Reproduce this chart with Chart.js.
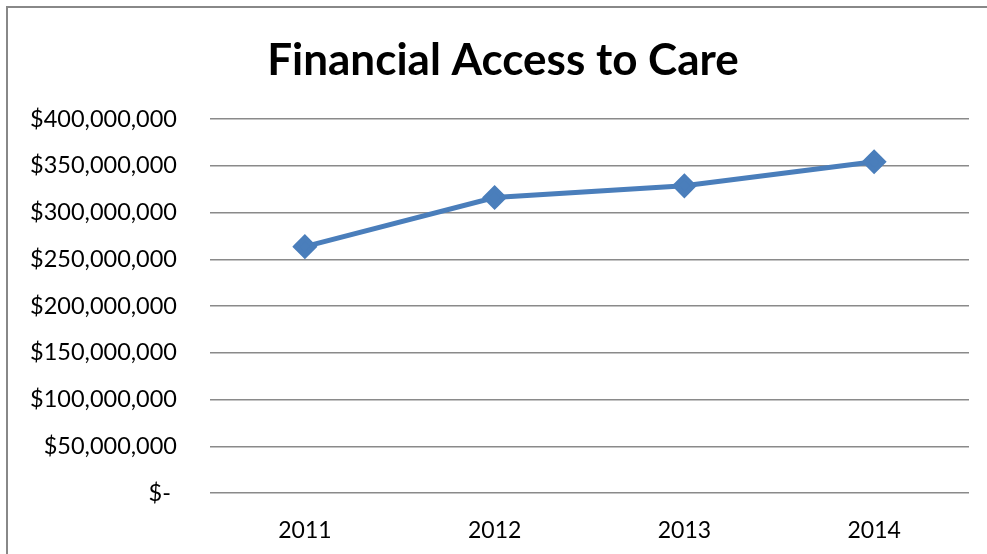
<!DOCTYPE html>
<html>
<head>
<meta charset="utf-8">
<script src="https://cdn.jsdelivr.net/npm/chart.js@4"></script>
<style>
  html, body { margin: 0; padding: 0; background: #fff; overflow: hidden; }
  #wrap { position: relative; width: 987px; height: 554px; }
  #frame { position: absolute; left: 6px; top: 6px; width: 1100px; height: 700px;
           border-left: 2px solid #888; border-top: 2px solid #888; }
  canvas { position: absolute; left: 0; top: 0; }
</style>
</head>
<body>
<div id="wrap">
  <div id="frame"></div>
  <canvas id="chart" width="987" height="554"></canvas>
</div>
<script>
const years = ['2011', '2012', '2013', '2014'];
const spending = [263500000, 316000000, 328500000, 354300000];
const yTicks = [0, 50000000, 100000000, 150000000, 200000000, 250000000, 300000000, 350000000, 400000000];

const FONT = 'Lato, "Open Sans", sans-serif';

function money(v) {
  if (v === 0) return '$- ';
  return '$' + v.toLocaleString('en-US');
}

// nudge the title box so the heading sits a bit right of the canvas centre
const titleShift = {
  id: 'titleShift',
  afterLayout(chart) {
    if (chart.titleBlock) chart.titleBlock.left = 37;
  }
};

new Chart(document.getElementById('chart'), {
  type: 'line',
  data: {
    labels: years,
    datasets: [{
      data: spending,
      borderColor: '#4a7ebb',
      backgroundColor: '#4a7ebb',
      borderWidth: 5,
      pointStyle: 'rectRot',
      pointRadius: 9,
      pointHoverRadius: 9,
      tension: 0
    }]
  },
  options: {
    responsive: false,
    animation: false,
    layout: { padding: { left: 0, right: 18, top: 0, bottom: 0 } },
    plugins: {
      legend: { display: false },
      tooltip: { enabled: false },
      title: {
        display: true,
        text: 'Financial Access to Care',
        color: '#000',
        font: { family: FONT, size: 44, weight: 'bold', lineHeight: 1.2 },
        padding: { top: 34, bottom: 32.2 }
      }
    },
    scales: {
      x: {
        offset: true,
        grid: { display: false },
        border: { display: false },
        ticks: { color: '#000', font: { family: FONT, size: 23 }, padding: 16 },
        afterFit: s => { s.height = 61; }
      },
      y: {
        min: 0,
        max: 400000000,
        afterBuildTicks: s => { s.ticks = yTicks.map(v => ({ value: v })); },
        grid: { color: '#8a8a8a', lineWidth: 1.5, drawTicks: false },
        border: { display: false },
        ticks: { color: '#000', font: { family: FONT, size: 23.5 }, padding: 33, callback: money },
        afterFit: s => { s.width = 210; }
      }
    }
  },
  plugins: [titleShift]
});
</script>
</body>
</html>
